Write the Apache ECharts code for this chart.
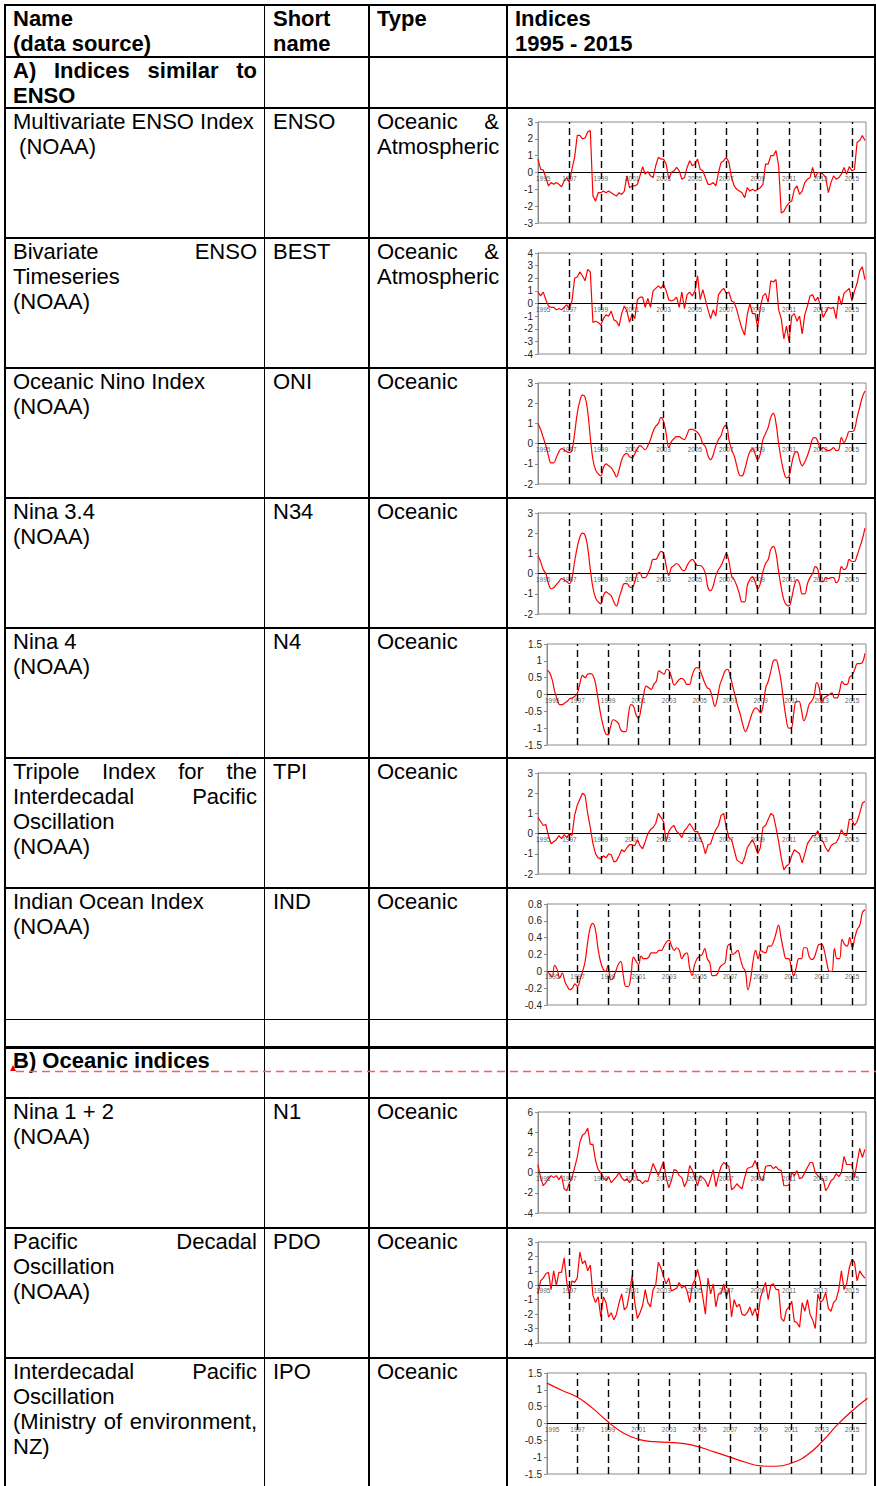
<!DOCTYPE html>
<html>
<head>
<meta charset="utf-8">
<title>Climate indices 1995 - 2015</title>
<script src="https://cdn.jsdelivr.net/npm/echarts@6/dist/echarts.min.js"></script>
<style>
  html, body { margin: 0; padding: 0; background: #fff; }
  #page {
    position: relative; width: 876px; height: 1486px; overflow: hidden;
    font-family: "Liberation Sans", Arial, sans-serif; font-size: 22px; line-height: 25px; color: #000;
  }
  .hl, .vl { position: absolute; background: #000; }
  .cell { position: absolute; }
  .cell div { white-space: nowrap; }
  .cell div.j { text-align: justify; text-align-last: justify; }
  .b { font-weight: bold; }
  #charts { position: absolute; left: 0; top: 0; width: 876px; height: 1486px; }
</style>
</head>
<body>
<div id="page">
  <div id="table"></div>
  <svg style="position:absolute;left:0;top:1060px" width="876" height="16">
    <polygon points="10,11 16,11 13,5" fill="#e60000"/>
    <line x1="16" y1="11.5" x2="876" y2="11.5" stroke="#ff5a5a" stroke-width="1.3" stroke-dasharray="8 5"/>
  </svg>
  <div id="charts"></div>
</div>
<script>
// x axis labels (years) and dashed year markers
const yearTicks = [1995, 1997, 1999, 2001, 2003, 2005, 2007, 2009, 2011, 2013, 2015];

// bi-monthly values, Jan 1995 .. Nov 2015
const ensoValues = [
  0.8, 0.2, 0.15, -0.3, -0.8, -0.6,
  -0.7, -0.6, -0.7, -0.85, -0.5, -0.3,
  -0.6, 0.2, 0.9, 2.2, 2.2, 2.0,
  2.05, 2.4, 2.5, -1.4, -1.7, -1.2,
  -1.2, -1.1, -1.2, -1.1, -1.2, -1.3,
  -1.4, -1.2, -1.3, -1.1, -0.2, -0.9,
  -0.8, -0.8, -0.7, -0.2, 0.35, -0.1,
  0.05, -0.2, -0.3, 0.4, 0.9, 0.8,
  0.8, 0.5, -0.4, 0.0, 0.1, 0.3,
  0.1, -0.4, -0.3, 0.3, 0.7, 0.4,
  0.5, 0.8, 0.2, 0.1, -0.3, -0.7,
  -0.7, -0.6, -0.8, 0.0, 0.6, 0.7,
  0.9, 0.6, -0.3, -0.8, -1.0, -1.1,
  -1.2, -1.5, -0.9, -1.1, -1.0, -1.1,
  -1.0, -0.9, -0.7, 0.5, 0.5, 1.0,
  1.0, 1.3, 0.4, -2.4, -2.3, -2.0,
  -1.8, -1.7, -1.0, -0.8, -1.3, -1.1,
  -0.6, -0.4, -0.3, 0.3, -0.3, 0.0,
  0.0, -0.1, -0.3, -1.2, -0.6, -0.2,
  -0.4, -0.3, -0.1, 0.3, -0.1, 0.35,
  0.1, 0.2, 1.8, 1.9, 2.2, 1.9
];
const bestValues = [
  0.9, 0.6, 0.9, 0.3, -0.2, -0.3,
  -0.3, -0.5, -0.4, -0.5, -0.3, -0.1,
  -0.4, 0.2, 2.0, 2.1, 2.5, 2.2,
  1.8, 2.7, 2.5, -1.5, -1.4, -1.5,
  -1.7, -1.2, -0.9, -1.0, -0.6, -1.3,
  -1.4, -1.8, -0.8, -0.2, -0.6, -1.5,
  -0.8, -1.2, 0.3, 0.5, 0.5, -0.3,
  0.4, -0.3, 1.0, 1.2, 1.4, 1.2,
  1.5, 1.0, 0.3, 0.2, 0.3, 0.5,
  -0.3, 0.9, -0.4, 0.7, 0.9, 0.6,
  1.0, 2.2, 0.3, 1.1, 0.3, -0.5,
  -1.2, -0.5, -1.0, 0.7, 1.0, 1.2,
  0.8, 0.9, 0.2, 0.1, -0.5, -1.3,
  -2.0, -2.5, -0.9, 0.0, -0.8, -0.8,
  -1.9, -0.3, 0.6, 0.8, 0.1, 1.8,
  1.7, 1.9, -0.5, -1.2, -2.8, -1.8,
  -3.0, -1.0, -0.8, -1.4, -1.0, -2.4,
  -0.9, -0.2, 0.6, 0.7, 0.2, 0.5,
  -0.2, -1.1, -0.7, -0.3, -0.4, -0.3,
  -1.2, 0.6, -0.1, 0.8, 1.0, 1.2,
  0.2, 1.0, 1.6, 2.6, 2.9, 1.9
];
const oniValues = [
  1.0, 0.7, 0.3, -0.1, -0.6, -0.95,
  -0.95, -0.7, -0.4, -0.25, -0.3, -0.4,
  -0.45, -0.3, 0.5, 1.5, 2.1, 2.4,
  2.3, 1.6, 0.3, -0.8, -1.3, -1.5,
  -1.6, -1.2, -1.0, -1.1, -1.2, -1.4,
  -1.65, -1.3, -0.8, -0.55, -0.5, -0.65,
  -0.7, -0.5, -0.25, -0.1, -0.2, -0.3,
  -0.1, 0.2, 0.6, 0.85, 1.0, 1.3,
  1.1, 0.5, -0.2, 0.1, 0.25, 0.35,
  0.35, 0.25, 0.2, 0.45, 0.7, 0.7,
  0.65, 0.55, 0.35, 0.0, -0.15, -0.6,
  -0.8, -0.55, -0.1, 0.2, 0.4, 0.8,
  0.9, 0.2, -0.3, -0.6, -1.1, -1.55,
  -1.6, -1.3, -0.8, -0.4, -0.25, -0.5,
  -0.8, -0.5, 0.2, 0.5, 0.8, 1.3,
  1.5, 1.0, 0.0, -0.8, -1.4, -1.7,
  -1.6, -1.0, -0.5, -0.4, -0.8, -1.1,
  -0.9, -0.6, -0.2, 0.25, 0.3, 0.1,
  -0.3, -0.2, -0.3, -0.35, -0.3, -0.2,
  -0.35, -0.3, 0.3, 0.05, 0.3, 0.6,
  0.6, 0.7, 1.3, 1.8, 2.3, 2.6
];
const n34Values = [
  0.9, 0.6, 0.2, 0.0, -0.5, -0.75,
  -0.7, -0.55, -0.4, -0.25, -0.3, -0.4,
  -0.5, -0.2, 0.6, 1.3, 1.8, 2.0,
  1.9, 1.3, 0.2, -0.7, -1.2, -1.4,
  -1.5, -1.1, -0.9, -1.0, -1.1, -1.4,
  -1.6, -1.2, -0.8, -0.5, -0.5, -0.65,
  -0.7, -0.4, 0.0, 0.05, -0.2, -0.2,
  0.0, 0.3, 0.7, 0.7, 0.9, 1.1,
  1.0, 0.4, -0.1, 0.3, 0.4, 0.5,
  0.4, 0.2, 0.15, 0.4, 0.6, 0.7,
  0.55, 0.4, 0.4, 0.3, 0.0, -0.7,
  -0.85, -0.6, -0.1, 0.2, 0.4, 0.7,
  1.0, 0.6, -0.1, -0.3, -0.6, -1.0,
  -1.4, -1.4, -0.6, -0.3, -0.15, -0.4,
  -0.75, -0.5, 0.1, 0.5, 0.7, 1.2,
  1.35, 1.0, 0.1, -0.7, -1.3, -1.55,
  -1.6, -1.2, -0.6, -0.3, -0.5, -1.0,
  -1.0, -0.5, -0.2, 0.0, 0.35, 0.2,
  -0.4, -0.4, -0.2, -0.25, -0.2, -0.2,
  -0.45, -0.3, 0.35, 0.2, 0.3, 0.7,
  0.6, 0.6, 0.9, 1.3, 1.7, 2.25
];
const n4Values = [
  0.72, 0.65, 0.45, 0.1, -0.15, -0.3,
  -0.3, -0.25, -0.2, -0.12, -0.1, -0.05,
  0.05, 0.35, 0.57, 0.5, 0.6, 0.62,
  0.58, 0.35, -0.1, -0.55, -0.9, -1.15,
  -1.2, -0.95, -0.75, -0.78, -0.85, -1.05,
  -1.1, -1.1, -0.6, -0.3, -0.35, -0.6,
  -0.7, -0.4, 0.0, 0.25, 0.2, 0.15,
  0.3, 0.4, 0.7, 0.65, 0.6, 0.75,
  0.7, 0.5, 0.28, 0.35, 0.45, 0.48,
  0.42, 0.3, 0.3, 0.55, 0.75, 0.8,
  0.75, 0.55, 0.35, 0.2, 0.15, -0.1,
  -0.35, -0.1, 0.3, 0.5, 0.7, 0.75,
  0.55, 0.25, -0.05, -0.35, -0.6, -0.9,
  -1.1, -0.95, -0.7, -0.5, -0.4, -0.45,
  -0.55, -0.3, 0.2, 0.4, 0.7, 1.0,
  1.03, 0.8, 0.4, -0.2, -0.7, -1.0,
  -1.0, -0.55, -0.2, -0.2, -0.45, -0.78,
  -0.6, -0.3, -0.2, -0.05, 0.35, 0.2,
  -0.25, -0.1, -0.05, 0.0, 0.05, -0.1,
  -0.1, 0.1, 0.38, 0.3, 0.3, 0.52,
  0.58, 0.75, 0.92, 0.92, 0.95, 1.22
];
const tpiValues = [
  0.8, 0.6, 0.4, 0.45, -0.1, -0.5,
  -0.4, -0.3, -0.1, -0.25, -0.05, -0.2,
  0.0, -0.1, 0.9, 1.4, 1.7, 2.0,
  1.9, 1.0, 0.3, -0.5, -1.0, -1.2,
  -1.25, -1.1, -1.2, -1.0, -1.05, -1.4,
  -1.35, -1.1, -0.8, -0.9, -0.7, -0.55,
  -0.55, -0.6, -0.3, -0.6, -0.75, -0.4,
  0.0, 0.2, 0.3, 0.5, 1.0, 0.8,
  0.6, -0.4, 0.1, 0.3, 0.4, 0.1,
  0.0, -0.2, 0.15, 0.3, 0.5, 0.3,
  0.1, 0.1, -0.2, -0.5, -1.0, -0.55,
  -0.5, -0.1, 0.2, 0.4, 0.9, 1.0,
  0.3, -0.2, -0.3, -0.8, -1.3, -1.4,
  -1.5, -1.2, -0.7, -0.5, -0.3, -0.6,
  -1.0, -0.7, 0.3, 0.4, 0.7, 1.0,
  0.9, 0.3, -0.4, -1.2, -1.8, -1.6,
  -1.5, -1.1, -0.8, -0.9, -1.0, -1.45,
  -1.0, -0.5, -0.3, -0.1, -0.1, 0.15,
  -0.3, -0.4, -0.7, -0.9, -0.6, -0.5,
  -0.45, -0.2, 0.2, -0.05, -0.1, 0.7,
  0.7, 0.4, 0.6, 1.0, 1.5, 1.6
];
const indValues = [
  0.0, -0.03, -0.07, 0.07, 0.02, -0.08,
  -0.02, -0.12, -0.18, -0.22, -0.2, -0.15,
  -0.18, -0.1, 0.0, 0.12, 0.35, 0.52,
  0.57, 0.5, 0.28, 0.12, 0.03, 0.0,
  0.07, -0.1, -0.08, 0.0, 0.08, 0.12,
  -0.05, -0.18, -0.18, -0.05, 0.17, 0.12,
  0.08, 0.18, 0.15, 0.15, 0.17, 0.22,
  0.22, 0.22, 0.25, 0.25, 0.3, 0.35,
  0.37, 0.3, 0.25, 0.28, 0.25, 0.15,
  0.2, 0.22, 0.05, -0.05, 0.08, 0.15,
  0.18, 0.2, 0.27, 0.15, 0.1, -0.05,
  -0.05, -0.03, 0.05, 0.08, 0.1, 0.3,
  0.32, 0.2, 0.22, 0.25, 0.15, 0.05,
  0.0, -0.22, -0.1, 0.12, 0.25, 0.15,
  0.25, 0.23, 0.22, 0.3, 0.3, 0.35,
  0.45, 0.55, 0.4, 0.25, 0.15, 0.15,
  0.05, -0.05, 0.05, 0.15, 0.15, 0.28,
  0.28, 0.18, 0.14, 0.16, 0.25, 0.32,
  0.32, 0.25, 0.1, 0.0, 0.0, 0.27,
  0.15, 0.15, 0.38, 0.32, 0.3, 0.4,
  0.28, 0.4, 0.5, 0.55, 0.7, 0.73
];
const n12Values = [
  0.8, -0.5, -1.3, -1.0, -0.6, -0.3,
  -0.5, -0.3, -0.7, -0.3, -1.6, -1.8,
  -1.0, -0.5, 0.5, 1.5, 3.0, 3.7,
  3.9, 4.4, 2.8, 2.8, 1.2, 0.3,
  0.0, -0.5, -0.8, -0.4, -1.0, -0.7,
  -0.4, 0.0, -0.5, -0.8, -0.6, -1.0,
  -0.7, 0.3, -0.7, -0.8, -1.1, -0.8,
  -0.9, 0.0, 0.9, 0.3, -0.3, 0.4,
  1.1, -0.5, -1.5, -0.8, 0.3, 0.2,
  -0.3, -0.5, -1.4, -0.8, 0.7, 0.2,
  -0.5, -1.3, -0.3, -0.5, -0.8, -1.4,
  -0.6, 0.3, -1.4, -0.3, 0.6, 1.0,
  0.8, 0.6, -1.7, -1.5, -1.1, -1.4,
  -1.6, -0.5, 0.4, 0.5, 0.6, 1.2,
  0.5, -0.6, -0.8, 0.6, 0.7, 0.7,
  0.4, 0.6, 0.3, 0.2, -1.3, -1.3,
  -1.2, 0.0, -0.3, 0.2, -0.6, -0.5,
  0.0, 0.5, 1.0, 1.0, 0.0, -0.3,
  -0.6, -0.6, -1.8, -1.4, -0.8, -0.6,
  -0.1, -0.4, 0.0, 1.6, 0.8, 0.8,
  0.8, -0.5, 1.0, 2.4, 1.5, 2.3
];
const pdoValues = [
  -0.6, 0.3, 0.5, 0.8, 0.9, -0.3,
  1.0, 0.0, 0.9, 0.9, 1.9, 0.2,
  -0.6, 0.3, 0.2, 0.5, 2.3, 1.5,
  1.7, 1.0, 1.4, -0.7, -1.2, -0.8,
  -2.2, -0.8, -1.2, -2.2, -1.9, -2.4,
  -2.0, -1.2, -0.6, -1.7, -1.5, -0.5,
  0.7, -1.2, -2.3, -1.9, -1.4, -0.3,
  -1.2, -1.5, -0.3, 0.0, 1.6, 1.2,
  0.6, 0.1, 0.5, -0.4, -0.3, -0.2,
  0.2, -0.2, 0.0, -0.4, -1.2, 0.0,
  0.4, 1.1, 0.3, -0.8, -2.0, 0.5,
  -0.6, 0.1, -1.5, -0.6, -0.6, 0.1,
  -0.8, -0.2, -2.2, -1.0, -1.5, -1.3,
  -2.0, -2.1, -1.9, -1.5, -2.1, -1.6,
  -2.3, -0.9, -0.3, 0.2, -1.0, 0.0,
  0.1, -0.3, -0.3, -2.3, -2.5, -1.7,
  -1.5, -1.1, -2.5, -2.6, -2.9, -1.2,
  -1.8, -1.0, -2.0, -2.4, -3.0, -0.6,
  -1.2, -1.0, -0.5, -1.6, -1.8, -1.2,
  -1.0, -0.3, 1.0, -0.3, 0.1, 1.2,
  1.8, 1.6, 0.3, 1.0, 0.7, 0.5
];
// yearly values, 1995 .. 2016
const ipoValues = [
  1.2, 0.98, 0.78, 0.45, 0.05, -0.28, -0.47, -0.54, -0.56, -0.6, -0.7,
  -0.85, -1.0, -1.15, -1.26, -1.27, -1.18, -0.95, -0.55, -0.05, 0.38, 0.75
];

// table layout
const rowLines = [5, 57, 108, 238, 368, 498, 628, 758, 888, 1020, 1047, 1098, 1228, 1358];
const colLines = [5, 265, 369, 507, 875];

// "*" marks a justified line
const cells = [
  { r: 0, c: 0, b: true, t: ['Name', '(data source)'] },
  { r: 0, c: 1, b: true, t: ['Short', 'name'] },
  { r: 0, c: 2, b: true, t: ['Type'] },
  { r: 0, c: 3, b: true, t: ['Indices', '1995 - 2015'] },
  { r: 1, c: 0, b: true, t: ['*A) Indices similar to', 'ENSO'] },
  { r: 2, c: 0, t: ['Multivariate ENSO Index', '\u00a0(NOAA)'] },
  { r: 2, c: 1, t: ['ENSO'] },
  { r: 2, c: 2, t: ['*Oceanic &', 'Atmospheric'] },
  { r: 3, c: 0, t: ['*Bivariate ENSO', 'Timeseries', '(NOAA)'] },
  { r: 3, c: 1, t: ['BEST'] },
  { r: 3, c: 2, t: ['*Oceanic &', 'Atmospheric'] },
  { r: 4, c: 0, t: ['Oceanic Nino Index', '(NOAA)'] },
  { r: 4, c: 1, t: ['ONI'] },
  { r: 4, c: 2, t: ['Oceanic'] },
  { r: 5, c: 0, t: ['Nina 3.4', '(NOAA)'] },
  { r: 5, c: 1, t: ['N34'] },
  { r: 5, c: 2, t: ['Oceanic'] },
  { r: 6, c: 0, t: ['Nina 4', '(NOAA)'] },
  { r: 6, c: 1, t: ['N4'] },
  { r: 6, c: 2, t: ['Oceanic'] },
  { r: 7, c: 0, t: ['*Tripole Index for the', '*Interdecadal Pacific', 'Oscillation', '(NOAA)'] },
  { r: 7, c: 1, t: ['TPI'] },
  { r: 7, c: 2, t: ['Oceanic'] },
  { r: 8, c: 0, t: ['Indian Ocean Index', '(NOAA)'] },
  { r: 8, c: 1, t: ['IND'] },
  { r: 8, c: 2, t: ['Oceanic'] },
  { r: 10, c: 0, b: true, t: ['B) Oceanic indices'] },
  { r: 11, c: 0, t: ['Nina 1 + 2', '(NOAA)'] },
  { r: 11, c: 1, t: ['N1'] },
  { r: 11, c: 2, t: ['Oceanic'] },
  { r: 12, c: 0, t: ['*Pacific Decadal', 'Oscillation', '(NOAA)'] },
  { r: 12, c: 1, t: ['PDO'] },
  { r: 12, c: 2, t: ['Oceanic'] },
  { r: 13, c: 0, t: ['*Interdecadal Pacific', 'Oscillation', '*(Ministry of environment,', 'NZ)'] },
  { r: 13, c: 1, t: ['IPO'] },
  { r: 13, c: 2, t: ['Oceanic'] }
];

const table = document.getElementById('table');
rowLines.forEach((y) => {
  const d = document.createElement('div');
  d.className = 'hl';
  const h = y === 1047 ? 3 : (y === 1020 ? 1 : 2);
  Object.assign(d.style, { left: '5px', width: '871px', top: (y - 1) + 'px', height: h + 'px' });
  table.appendChild(d);
});
colLines.forEach((x) => {
  const d = document.createElement('div');
  d.className = 'vl';
  const w = x === 265 ? 1 : 2;
  Object.assign(d.style, { left: (x - 1) + 'px', width: w + 'px', top: '4px', height: '1482px' });
  table.appendChild(d);
});
cells.forEach((cell) => {
  const d = document.createElement('div');
  d.className = 'cell' + (cell.b ? ' b' : '');
  const x0 = colLines[cell.c] + 8;
  const x1 = colLines[cell.c + 1] - 8;
  Object.assign(d.style, { left: x0 + 'px', width: (x1 - x0) + 'px', top: (rowLines[cell.r] + 1) + 'px' });
  cell.t.forEach((line) => {
    const l = document.createElement('div');
    if (line.startsWith('*')) { l.className = 'j'; line = line.slice(1); }
    l.textContent = line;
    d.appendChild(l);
  });
  table.appendChild(d);
});

// one small chart per index row
const panels = [
  { values: ensoValues, step: 2, smooth: false, yMin: -3, yMax: 3, yStep: 1, top: 122, left: 538 },
  { values: bestValues, step: 2, smooth: false, yMin: -4, yMax: 4, yStep: 1, top: 253, left: 538 },
  { values: oniValues, step: 2, smooth: 0.4, yMin: -2, yMax: 3, yStep: 1, top: 383, left: 538 },
  { values: n34Values, step: 2, smooth: 0.4, yMin: -2, yMax: 3, yStep: 1, top: 513, left: 538 },
  { values: n4Values, step: 2, smooth: 0.4, yMin: -1.5, yMax: 1.5, yStep: 0.5, top: 644, left: 547 },
  { values: tpiValues, step: 2, smooth: false, yMin: -2, yMax: 3, yStep: 1, top: 773, left: 538 },
  { values: indValues, step: 2, smooth: 0.4, yMin: -0.4, yMax: 0.8, yStep: 0.2, top: 904, left: 547 },
  { values: n12Values, step: 2, smooth: false, yMin: -4, yMax: 6, yStep: 2, top: 1112, left: 538 },
  { values: pdoValues, step: 2, smooth: false, yMin: -4, yMax: 3, yStep: 1, top: 1242, left: 538 },
  { values: ipoValues, step: 12, smooth: 0.5, yMin: -1.5, yMax: 1.5, yStep: 0.5, top: 1373, left: 547 }
];

const font = '"Liberation Sans", Arial, sans-serif';
const grid = [], xAxis = [], yAxis = [], series = [];
panels.forEach((p, k) => {
  grid.push({
    left: p.left, right: 10, top: p.top, height: 101,
    show: true, borderColor: '#8c8c8c', borderWidth: 1, backgroundColor: 'transparent'
  });
  xAxis.push({
    gridIndex: k, type: 'value', min: 1995, max: 2015.9,
    axisLine: { onZero: true, lineStyle: { color: '#000', width: 1 } },
    axisTick: { show: false },
    splitLine: { show: false },
    axisLabel: { show: false }
  });
  yAxis.push({
    gridIndex: k, type: 'value', min: p.yMin, max: p.yMax, interval: p.yStep,
    axisLine: { show: true, lineStyle: { color: '#8c8c8c' } },
    axisTick: { show: true, length: 3, lineStyle: { color: '#8c8c8c' } },
    splitLine: { show: false },
    axisLabel: { fontSize: 10, color: '#222', margin: 5, fontFamily: font }
  });
  series.push({
    type: 'line', xAxisIndex: k, yAxisIndex: k,
    data: p.values.map((v, i) => [1995 + (i * p.step) / 12, v]),
    smooth: p.smooth, symbol: 'none', showSymbol: false,
    lineStyle: { color: '#ff0000', width: 1.2 },
    markLine: {
      silent: true, symbol: 'none', label: { show: false },
      lineStyle: { color: '#000', type: [7, 4], width: 1.4 },
      data: yearTicks.slice(1).map((y) => ({ xAxis: y }))
    }
  });
  // year labels sitting just under the zero line
  series.push({
    type: 'scatter', xAxisIndex: k, yAxisIndex: k, silent: true,
    symbolSize: 0, z: 5,
    data: yearTicks.map((y, i) => ({
      value: [y, 0],
      label: i === 0 ? { align: 'left', offset: [-2, 0] } : undefined
    })),
    label: {
      show: true, position: 'bottom', distance: 2,
      formatter: (d) => String(d.value[0]),
      fontSize: 6.5, color: '#333', fontFamily: font
    }
  });
});

const chart = echarts.init(document.getElementById('charts'), null, { renderer: 'svg' });
chart.setOption({ animation: false, grid, xAxis, yAxis, series });
</script>
</body>
</html>
